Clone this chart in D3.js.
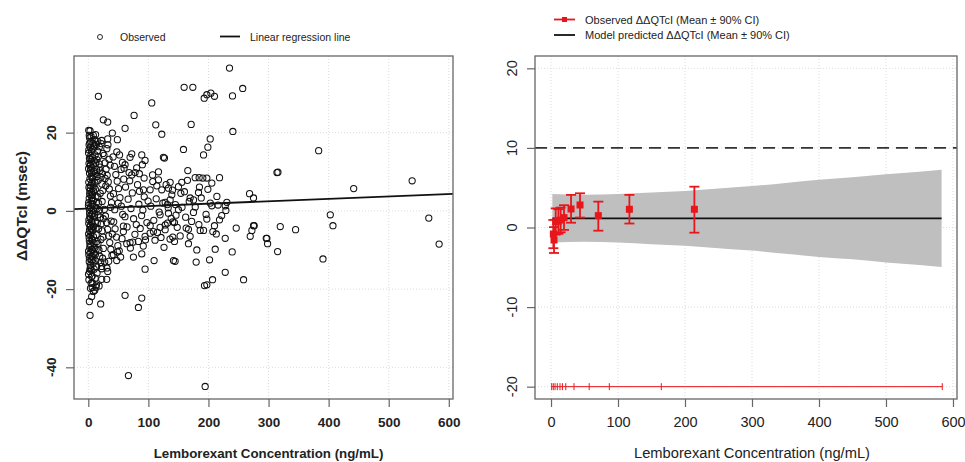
<!DOCTYPE html>
<html><head><meta charset="utf-8">
<script src="https://cdn.jsdelivr.net/npm/d3@7"></script>
<style>body{margin:0;background:#fff}svg{display:block;font-family:"Liberation Sans",Arial,sans-serif}</style>
</head><body><svg id="c" width="965" height="462"></svg>
<script>
// ---------- DATA ----------
const xTicks = [0,100,200,300,400,500,600];
const yTicksLeft = [-40,-20,0,20];
const yTicksRight = [-20,-10,0,10,20];
// Observed ΔΔQTcI vs concentration (left panel): [conc, ddQTcI]
const obsPoints = [
[0.5,14.8],[1.2,12.1],[2.0,9.6],[0.8,7.3],[2.6,5.1],[1.5,3.2],[0.3,1.4],[2.2,-0.6],[1.0,-2.3],[2.8,-4.1],[0.6,-5.9],[1.8,-7.6],[2.4,-9.4],[0.9,-11.2],[1.6,-13.0],[2.9,-14.8],[0.4,-16.2],[1.3,16.9],[2.1,18.7],[0.7,20.6],
[1.9,13.4],[0.5,10.8],[2.7,8.2],[1.1,6.0],[2.3,4.3],[0.6,2.1],[1.7,0.4],[2.5,-1.4],[0.8,-3.2],[2.0,-5.0],[1.4,-6.8],[2.6,-8.5],[0.5,-10.3],[1.8,-12.1],[2.2,-15.5],[1.0,-17.6],[2.9,11.5],[0.9,15.6],[1.6,19.3],[2.4,17.4],
[3.3,16.3],[4.1,14.1],[5.2,12.7],[3.7,10.4],[4.8,8.9],[5.6,7.1],[3.1,5.8],[4.4,3.9],[5.9,2.6],[3.6,0.9],[4.9,-0.9],[5.4,-2.7],[3.2,-3.8],[4.6,-5.5],[5.8,-7.2],[3.9,-8.9],[4.2,-10.7],[5.1,-12.5],[3.4,-13.9],[4.7,-15.1],[5.5,-16.8],[3.8,17.8],[4.5,19.1],[5.3,15.2],[3.5,11.8],[4.0,6.5],[5.7,4.8],[3.0,-1.9],[4.3,-6.3],[5.0,-11.6],[3.6,-19.8],[4.8,-18.5],[5.9,9.8],[3.2,13.2],[4.6,1.7],[5.2,-4.6],[3.9,-14.4],[5.6,-9.8],
[6.3,15.8],[7.1,13.6],[8.4,11.9],[9.2,10.1],[6.8,8.4],[7.7,6.6],[8.9,5.0],[6.1,3.3],[7.4,1.8],[8.1,0.1],[9.6,-1.5],[6.6,-3.3],[7.9,-4.9],[8.6,-6.6],[9.4,-8.2],[6.9,-9.9],[7.3,-11.7],[8.2,-13.3],[9.7,-14.9],[6.4,-16.7],[7.6,17.3],[8.8,16.1],[9.9,12.8],[6.2,11.0],[7.0,4.2],[8.5,2.7],[9.1,-3.9],[6.7,-7.5],[7.8,-12.4],[9.3,-10.8],[8.0,8.9],[6.5,-19.6],[9.5,6.1],[7.2,-0.8],
[10.5,16.6],[11.3,14.3],[12.4,12.2],[13.6,10.6],[14.5,8.8],[10.9,7.2],[11.8,5.5],[12.9,3.8],[13.9,2.2],[14.8,0.6],[10.2,-1.1],[11.6,-2.8],[12.7,-4.4],[13.2,-6.1],[14.1,-7.8],[10.7,-9.4],[11.9,-11.1],[12.3,-12.8],[13.8,-14.2],[14.6,-15.9],[10.4,18.2],[12.1,19.5],[13.4,17.0],[14.3,13.1],[11.1,9.6],[12.6,0.9],[13.0,-9.9],[14.9,-3.2],[11.4,-17.2],[13.5,-18.9],[10.8,-20.3],
[15.4,15.3],[16.8,13.9],[18.2,12.0],[19.5,10.3],[21.0,8.6],[22.6,6.9],[24.1,5.2],[15.9,3.6],[17.3,1.9],[18.8,0.2],[20.2,-1.6],[21.7,-3.3],[23.3,-5.1],[24.7,-6.7],[16.2,-8.3],[17.7,-10.0],[19.1,-11.6],[20.6,-13.2],[22.1,-14.8],[23.8,-12.1],[15.7,17.8],[18.5,16.4],[21.4,17.2],[24.4,14.7],[16.5,7.8],[19.9,4.5],[23.0,2.4],[17.1,-4.6],[20.9,-7.3],[24.9,-2.0],[22.3,-17.5],[18.0,-19.2],[19.3,11.2],[16.0,-1.0],[23.6,9.5],[25.0,-9.6],
[26.1,14.2],[27.9,12.3],[29.6,10.7],[31.4,9.1],[33.2,7.4],[35.0,5.6],[36.8,3.8],[38.6,2.1],[26.7,0.4],[28.5,-1.3],[30.3,-3.0],[32.1,-4.7],[33.9,-6.4],[35.7,-8.1],[37.5,-9.8],[39.3,-11.4],[27.3,-13.1],[29.1,6.4],[30.9,15.9],[32.7,16.9],[34.5,13.2],[36.3,11.7],[38.1,-2.6],[39.9,-5.9],[31.0,-14.6],[34.0,-12.9],[28.0,8.3],[37.0,0.9],
[41.2,13.8],[43.5,11.4],[45.8,9.3],[48.1,7.6],[50.4,5.7],[52.7,3.4],[55.0,1.2],[57.3,-0.9],[42.3,-2.8],[44.6,-4.6],[46.9,-6.7],[49.2,-8.9],[51.5,-10.2],[53.8,-11.8],[56.1,-7.1],[58.4,-3.9],[41.9,4.4],[47.5,15.1],[52.0,14.3],[54.5,10.6],[59.0,8.1],[44.0,0.3],[49.8,2.0],[56.8,12.4],
[62.0,6.1],[66.3,3.0],[71.0,0.6],[75.4,-2.0],[79.9,-3.5],[84.2,1.7],[88.7,-1.2],[93.1,3.6],[97.5,-3.0],[64.5,-4.1],[68.9,7.7],[73.3,4.6],[77.6,-6.0],[82.0,6.7],[86.4,-4.5],[90.8,0.2],[95.2,-7.4],[99.5,2.5],[61.0,-1.5],[80.5,11.0],[70.0,-9.5],[91.5,-9.0],[85.0,9.5],
[104,1.2],[109,-2.4],[113,3.1],[118,-0.3],[124,2.0],[128,-3.6],[133,0.8],[138,-1.9],[145,1.6],[148,-4.2],[111,-7.5],[126,-9.3],[140,5.3],[107,9.2],[121,-6.8],[136,-7.2],[146,-1.1],[103,-3.8],
[156,0.9],[162,-1.6],[168,2.4],[172,-2.7],[178,1.0],[184,-3.5],[188,3.3],[196,-0.9],[203,2.0],[210,-3.8],[216,1.5],[222,-1.2],[160,4.9],[185,6.1],[199,5.5],[213,-5.9],
[235,36.5],[16.8,29.3],[159.5,31.6],[174,31.6],[257,31.3],[192.9,28.8],[197.3,29.7],[204,30.1],[210,29.3],[240,29.4],[105.6,27.6],[25,23.3],[32.3,22.7],[76.2,24.4],[61.2,21.1],[112.3,22.0],[171.2,22.1],[122.3,19.6],[240.6,20.3],[202.9,18.4],[199,16.3],[191.8,14.3],[158.4,15.7],[125,13.7],[126.8,13.5],
[2.9,20.5],[8.4,19.3],[40,19.9],[48.4,18.2],[32.3,18.4],[22.3,18.0],[72.3,14.6],[69.5,13.7],[89,14.3],[94.5,12.9],[90,11.8],[61.2,11.8],[59.5,10.9],[67.9,9.8],[72.3,9.2],[77.9,9.8],[92.9,8.4],[116.8,10],[165.6,10.3],
[177.9,8.5],[184.5,8.5],[190.6,8.4],[197.3,8.4],[205.6,7.1],[218.4,8.5],[155.6,7.3],[150.1,6.2],[165,7.8],[116.8,7.95],[107.3,7.5],[114,6.4],[129.5,6.7],[136.2,7.3],[102.9,5.4],[91.8,5.4],[85.1,5.0],[122.3,5.4],[133.4,5.8],
[154,4.5],[169.5,3.3],[183.4,4.7],[214,3.7],[230.6,2.2],[227.9,1.3],[139,4.1],[136.2,2.8],[127.9,2.2],[131.8,1.6],[205.6,1.3],[175.1,2.8],[275,3.3],[268.4,4.4],[314,9.8],
[175,-0.4],[197.3,-2.1],[218.4,-2.3],[229,0.1],[150,0.3],[133.4,-0.6],[119.5,-1.0],[131.8,-3.1],[140.6,-2.8],[143.4,-3.0],[162.9,-4.4],[166.7,-4.7],[152.9,-6.4],[140.6,-6.7],[143.4,-7.8],[186.2,-5.0],[191.8,-5.0],[207.3,-5.3],
[246.2,-4.4],[272.3,-5.0],[275,-3.8],[269.5,-6.5],[227.9,-7.0],[296.2,-7.0],[298.4,-8.4],[315.1,-10.4],[115,-5.5],[108.4,-5.3],[102.9,-5.7],[119.5,-4.2],[127.9,-4.8],[94.5,-6.5],[83.4,-7.8],[74,-8.0],[69.5,-8.1],[64,-8.4],[58.4,-5.3],
[169.5,-6.5],[166.7,-8.4],[211.2,-9.8],[180.6,-10.0],[179.5,-13.1],[201.8,-12.5],[197.3,-18.9],[193.4,-19.1],[206.8,-17.6],[239.5,-10.5],[227.9,-15.7],[258.4,-17.6],[141.7,-12.7],[144.5,-12.9],[109.5,-12.7],[94.5,-14.9],[89,-11.0],[75.1,-11.8],
[61.2,-21.6],[89,-22.3],[83.4,-24.7],[66.8,-42.1],[194.5,-44.9],[1.8,-23.2],[2.9,-26.7],[20.6,-23.8],[12.9,-19.5],[8.4,-20.6],[5.6,-21.9],[7.3,-18.5],[30.6,-17.5],[32.3,-15.5],[22.3,-14.2],[48.4,-10.5],[47.3,-12.7],[41.8,-11.2],
[383.4,15.4],[315.6,9.9],[441.7,5.7],[539,7.7],[402.8,-1.0],[407.2,-3.8],[566.7,-1.85],[583.9,-8.5],[276.1,-3.8],[319.5,-4.0],[297.2,-7.0],[345,-4.8],[390.6,-12.3]
];
const regIntercept = 0.6, regSlope = 0.0062;

// Right panel: observed binned means with 90% CI
const binConc  = [3.5, 4.5, 7.0, 11.0, 14.4, 19.4, 29.9, 43.3, 70.6, 117, 214];
const binMean  = [-0.82, -1.57, 0.73, 0.8, 0.94, 1.24, 2.33, 2.83, 1.49, 2.29, 2.29];
const binLower = [-2.6, -3.2, -0.9, -0.8, -0.6, -0.3, 0.6, 1.25, -0.4, 0.5, -0.65];
const binUpper = [0.95, 0.05, 2.4, 2.3, 2.5, 2.8, 4.1, 4.3, 3.25, 4.1, 5.13];
// bin boundaries (rug at -20)
const binEdges = [1.0, 3.4, 6.0, 9.4, 13.4, 17.0, 22.0, 34.3, 57.0, 87.0, 164.6, 584];
// model prediction mean and 90% CI
const predConc  = [2, 50, 100, 150, 200, 250, 300, 350, 400, 450, 500, 550, 583];
const predMean  = [1.15,1.15,1.15,1.15,1.15,1.15,1.15,1.15,1.15,1.15,1.15,1.15,1.15];
const predUpper = [4.2, 4.1, 4.2, 4.4, 4.6, 4.9, 5.2, 5.6, 6.0, 6.3, 6.7, 7.0, 7.25];
const predLower = [-1.9,-1.8,-1.9,-2.1,-2.3,-2.6,-2.9,-3.3,-3.7,-4.0,-4.4,-4.7,-4.95];
const thresholdQT = 10;
const refRugY = -20;

// ---------- DRAW ----------
const svg = d3.select("#c");
const RED = "#e8161b", BOX = "#666", TXT = "#222";

function panel(x, y, yTicks, bold, tickFs) {
  const [x0,x1] = x.range(), [y0,y1] = y.range();
  const g = svg.append("g");
  g.selectAll(".gx").data(xTicks).join("line")
    .attr("x1", d=>x(d)).attr("x2", d=>x(d)).attr("y1", y1).attr("y2", y0)
    .attr("stroke", "#d3d3d3").attr("stroke-width", 0.8).attr("stroke-dasharray", "1,2");
  g.selectAll(".gy").data(yTicks).join("line")
    .attr("y1", d=>y(d)).attr("y2", d=>y(d)).attr("x1", x0).attr("x2", x1)
    .attr("stroke", "#d3d3d3").attr("stroke-width", 0.8).attr("stroke-dasharray", "1,2");
  const ax = svg.append("g").attr("transform", `translate(0,${y0})`)
    .call(d3.axisBottom(x).tickValues(xTicks).tickSize(8).tickPadding(10));
  ax.select(".domain").remove();
  ax.selectAll("line").attr("stroke", BOX).attr("stroke-width", 1.2);
  ax.selectAll("text").attr("font-size", tickFs).attr("font-weight", bold?"bold":"normal")
    .attr("fill", TXT).attr("font-family", '"Liberation Sans",Arial,sans-serif');
  const ay = svg.append("g").attr("transform", `translate(${x0},0)`)
    .call(d3.axisLeft(y).tickValues(yTicks).tickSize(8).tickFormat(d3.format("d")));
  ay.select(".domain").remove();
  ay.selectAll("line").attr("stroke", BOX).attr("stroke-width", 1.2);
  ay.selectAll("text").remove();
  svg.append("g").selectAll("text").data(yTicks).join("text")
    .attr("transform", d=>`translate(${x0-23},${y(d)}) rotate(-90)`)
    .attr("text-anchor","middle").attr("dominant-baseline","central")
    .attr("font-size", tickFs).attr("font-weight", bold?"bold":"normal").attr("fill", TXT)
    .text(d=>d);
  return g;
}

// ----- Left panel -----
const xL = d3.scaleLinear().domain([-23.8, 607]).range([74, 453]);
const yL = d3.scaleLinear().domain([-48.1, 39.6]).range([399, 56]);
const gL = panel(xL, yL, yTicksLeft, true, 13.5);
gL.append("g").selectAll("circle").data(obsPoints).join("circle")
  .attr("cx", d=>xL(d[0])).attr("cy", d=>yL(d[1])).attr("r", 3.1)
  .attr("fill","none").attr("stroke","#111").attr("stroke-width",1.05);
const dL = xL.domain();
gL.append("line").attr("x1", xL(dL[0])).attr("x2", xL(dL[1]))
  .attr("y1", yL(regIntercept+regSlope*dL[0])).attr("y2", yL(regIntercept+regSlope*dL[1]))
  .attr("stroke","#111").attr("stroke-width",1.8);
svg.append("rect").attr("x",74).attr("y",56).attr("width",379).attr("height",343)
  .attr("fill","none").attr("stroke",BOX).attr("stroke-width",1.3);
svg.append("text").attr("x", (xL(0)+xL(600))/2).attr("y", 457.5).attr("text-anchor","middle")
  .attr("font-size",13.3).attr("font-weight","bold").attr("fill",TXT)
  .text("Lemborexant Concentration (ng/mL)");
svg.append("text").attr("transform","translate(21,206) rotate(-90)").attr("text-anchor","middle")
  .attr("dominant-baseline","central").attr("font-size",15.5).attr("font-weight","bold").attr("fill",TXT)
  .text("ΔΔQTcI (msec)");
// legend left
svg.append("circle").attr("cx",100).attr("cy",37).attr("r",2.5).attr("fill","none").attr("stroke","#111").attr("stroke-width",0.9);
svg.append("text").attr("x",120).attr("y",41).attr("font-size",10.5).attr("fill",TXT).text("Observed");
svg.append("line").attr("x1",220).attr("x2",240).attr("y1",36.5).attr("y2",36.5).attr("stroke","#111").attr("stroke-width",1.8);
svg.append("text").attr("x",250).attr("y",40.5).attr("font-size",10.5).attr("fill",TXT).text("Linear regression line");

// ----- Right panel -----
const xR = d3.scaleLinear().domain([-23.9, 606]).range([535, 957]);
const yR = d3.scaleLinear().domain([-21.55, 21.55]).range([399, 56]);
const gR = panel(xR, yR, yTicksRight, false, 14.5);
const band = predConc.map((c,i)=>({c, lo:predLower[i], hi:predUpper[i], m:predMean[i]}));
gR.append("path").datum(band)
  .attr("d", d3.area().x(d=>xR(d.c)).y0(d=>yR(d.lo)).y1(d=>yR(d.hi)).curve(d3.curveMonotoneX))
  .attr("fill","#bfbfbf");
gR.append("path").datum(band)
  .attr("d", d3.line().x(d=>xR(d.c)).y(d=>yR(d.m)))
  .attr("fill","none").attr("stroke","#111").attr("stroke-width",1.8);
gR.append("line").attr("x1",535).attr("x2",957).attr("y1",yR(thresholdQT)).attr("y2",yR(thresholdQT))
  .attr("stroke","#333").attr("stroke-width",1.8).attr("stroke-dasharray","12,7");
gR.append("line").attr("x1",xR(binEdges[0])).attr("x2",xR(binEdges[binEdges.length-1]))
  .attr("y1",yR(refRugY)).attr("y2",yR(refRugY)).attr("stroke",RED).attr("stroke-width",1);
gR.selectAll(".rug").data(binEdges).join("line")
  .attr("x1",d=>xR(d)).attr("x2",d=>xR(d)).attr("y1",yR(refRugY)-3.5).attr("y2",yR(refRugY)+3.5)
  .attr("stroke",RED).attr("stroke-width",1);
const bins = binConc.map((c,i)=>({c, m:binMean[i], lo:binLower[i], hi:binUpper[i]}));
const eb = gR.append("g").attr("stroke",RED).attr("stroke-width",1.8);
eb.selectAll(".v").data(bins).join("line").attr("x1",d=>xR(d.c)).attr("x2",d=>xR(d.c))
  .attr("y1",d=>yR(d.lo)).attr("y2",d=>yR(d.hi));
eb.selectAll(".t").data(bins).join("line").attr("x1",d=>xR(d.c)-5).attr("x2",d=>xR(d.c)+5)
  .attr("y1",d=>yR(d.hi)).attr("y2",d=>yR(d.hi));
eb.selectAll(".b").data(bins).join("line").attr("x1",d=>xR(d.c)-5).attr("x2",d=>xR(d.c)+5)
  .attr("y1",d=>yR(d.lo)).attr("y2",d=>yR(d.lo));
gR.selectAll(".sq").data(bins).join("rect").attr("x",d=>xR(d.c)-3.5).attr("y",d=>yR(d.m)-3.5)
  .attr("width",7).attr("height",7).attr("fill",RED);
svg.append("rect").attr("x",535).attr("y",56).attr("width",422).attr("height",343)
  .attr("fill","none").attr("stroke",BOX).attr("stroke-width",1.3);
svg.append("text").attr("x",(xR(0)+xR(600))/2).attr("y",457.5).attr("text-anchor","middle")
  .attr("font-size",14.7).attr("fill",TXT).text("Lemborexant Concentration (ng/mL)");
// legend right
svg.append("line").attr("x1",554).attr("x2",575).attr("y1",19.5).attr("y2",19.5).attr("stroke",RED).attr("stroke-width",1.8);
svg.append("rect").attr("x",562).attr("y",17).attr("width",5).attr("height",5).attr("fill",RED);
svg.append("text").attr("x",585).attr("y",23.5).attr("font-size",11).attr("fill",TXT).text("Observed ΔΔQTcI (Mean ± 90% CI)");
svg.append("line").attr("x1",554).attr("x2",575).attr("y1",35).attr("y2",35).attr("stroke","#111").attr("stroke-width",1.8);
svg.append("text").attr("x",585).attr("y",39).attr("font-size",11).attr("fill",TXT).text("Model predicted ΔΔQTcI (Mean ± 90% CI)");
</script></body></html>
